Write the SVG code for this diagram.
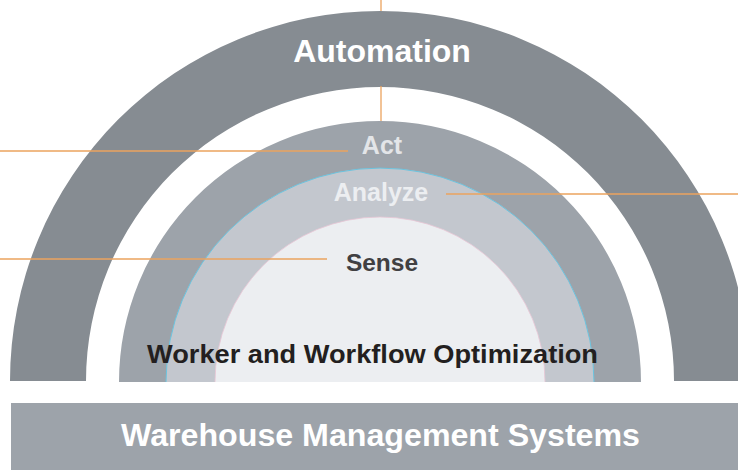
<svg xmlns="http://www.w3.org/2000/svg" width="738" height="470" viewBox="0 0 738 470">
<style>
.lbl{font-family:"Liberation Sans",Arial,sans-serif;font-weight:bold;text-anchor:middle}
.conn{stroke:#eba35e;stroke-width:1.3;fill:none}
</style>
<rect width="738" height="470" fill="#ffffff"/>
<g id="automation">
<path d="M10 381 A370 370 0 0 1 750 381 L674 381 A294 294 0 0 0 86 381 Z" fill="#868c92"/>
<text class="lbl" x="382" y="62" font-size="32" fill="#ffffff">Automation</text>
</g>
<g id="act">
<path d="M119 382 A261 261 0 0 1 641 382 Z" fill="#9da3aa"/>
<text class="lbl" x="382" y="154" font-size="25" fill="#e3e5e8">Act</text>
</g>
<g id="analyze">
<path d="M166 382 A214 214 0 0 1 594 382 Z" fill="#c3c7ce"/>
<path d="M166 382 A214 214 0 0 1 594 382" fill="none" stroke="#6cc4df" stroke-width="1"/>
<text class="lbl" x="381" y="201" font-size="25" fill="#eceef1">Analyze</text>
</g>
<g id="sense">
<path d="M215 382 A165 165 0 0 1 545 382 Z" fill="#eceef1"/>
<path d="M215 382 A165 165 0 0 1 545 382" fill="none" stroke="#e9c6d6" stroke-width="0.8"/>
<text class="lbl" x="382" y="271" font-size="24.5" fill="#414042">Sense</text>
</g>
<g id="worker-workflow">
<text class="lbl" x="372.5" y="363" font-size="26" fill="#231f20" textLength="451" lengthAdjust="spacingAndGlyphs">Worker and Workflow Optimization</text>
</g>
<g id="wms">
<rect x="11" y="403" width="740" height="70" fill="#9da3aa"/>
<text class="lbl" x="380.5" y="446" font-size="31" fill="#ffffff" textLength="519" lengthAdjust="spacingAndGlyphs">Warehouse Management Systems</text>
</g>
<g id="connectors">
<line class="conn" x1="381" y1="0" x2="381" y2="11"/>
<line class="conn" x1="381" y1="86" x2="381" y2="121"/>
<line class="conn" x1="0" y1="151" x2="348" y2="151"/>
<line class="conn" x1="446" y1="194" x2="738" y2="194"/>
<line class="conn" x1="0" y1="259" x2="327" y2="259"/>
</g>
</svg>
